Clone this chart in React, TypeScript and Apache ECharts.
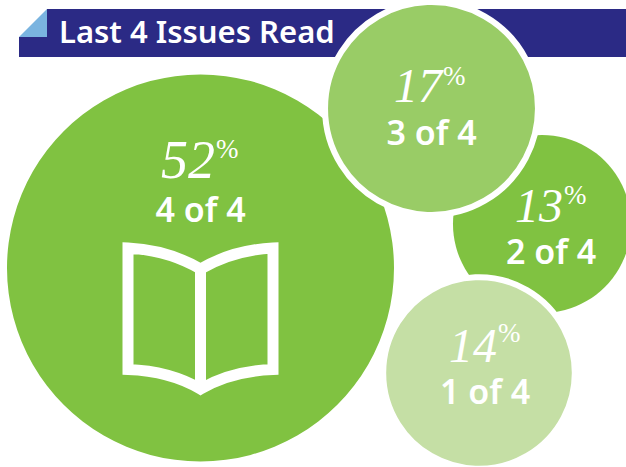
import React, { useEffect, useRef } from "react";
import * as echarts from "echarts";

const titleText = "Last 4 Issues Read";
const percentValues = [52, 13, 14, 17];
const issueLabels = ["4 of 4", "2 of 4", "1 of 4", "3 of 4"];
const bubbleX = [200.5, 542, 479, 431.5];
const bubbleY = [268, 224, 373, 108.5];
const bubbleColors = ["#80c241", "#80c241", "#c5dfa5", "#99cc66"];
const bubbleBorders = [0, 0, 6, 6];
const numberFontSizes = [54, 48, 48, 48];
const numberX = [188, 539, 473, 418];
const numberY = [160, 205, 345, 85];
const percentY = [149, 195, 333, 76];
const subX = [200.5, 551, 485, 431.5];
const subY = [209, 251, 391, 132];

const SANS = "'Noto Sans', 'Open Sans', sans-serif";
const SERIF = "'Liberation Serif', serif";

const BOOK =
  "M200.5 269 Q168 250 128 248 L128 369.5 Q170 371 200.5 389 Q231 371 273 369.5 L273 248 Q233 250 200.5 269 L200.5 389";
echarts.graphic.registerShape("bookIcon", echarts.graphic.extendPath(BOOK, {}));

const radiusOf = (v: number) => 21.17 * Math.pow(v, 0.56);

export default function App() {
  const ref = useRef<HTMLDivElement>(null);
  useEffect(() => {
    document.body.style.margin = "0";
    const chart = echarts.init(ref.current!, undefined, { renderer: "svg" });
    const texts: any[] = [];
    percentValues.forEach((v, i) => {
      texts.push({
        type: "text",
        z: 10,
        x: numberX[i],
        y: numberY[i],
        style: {
          text: String(v),
          fill: "#fff",
          font: `italic 400 ${numberFontSizes[i]}px ${SERIF}`,
          textAlign: "center",
          textVerticalAlign: "middle",
        },
      });
      texts.push({
        type: "text",
        z: 10,
        x: numberX[i] + numberFontSizes[i] / 2 + 1,
        y: percentY[i],
        style: {
          text: "%",
          fill: "#fff",
          font: `400 27px ${SERIF}`,
          textAlign: "left",
          textVerticalAlign: "middle",
        },
      });
      texts.push({
        type: "text",
        z: 10,
        x: subX[i],
        y: subY[i],
        style: {
          text: issueLabels[i],
          fill: "#fff",
          font: `600 34px ${SANS}`,
          textAlign: "center",
          textVerticalAlign: "middle",
        },
      });
    });
    chart.setOption({
      animation: false,
      grid: { left: 0, right: 0, top: 0, bottom: 0 },
      xAxis: { type: "value", min: 0, max: 626, show: false },
      yAxis: { type: "value", min: 0, max: 467, inverse: true, show: false },
      graphic: [
        {
          type: "polygon",
          z: 0,
          shape: { points: [[47, 9], [626, 9], [626, 57], [19, 57], [19, 37], [47, 37]] },
          style: { fill: "#2b2a85" },
        },
        {
          type: "polygon",
          z: 0,
          shape: { points: [[19, 37], [47, 9], [47, 37]] },
          style: { fill: "#7ab4e0" },
        },
        {
          type: "text",
          z: 1,
          x: 59,
          y: 31,
          style: {
            text: titleText,
            fill: "#fff",
            font: `600 31px ${SANS}`,
            textAlign: "left",
            textVerticalAlign: "middle",
          },
        },
        {
          type: "bookIcon",
          z: 10,
          x: 0,
          y: 0,
          style: { fill: "none", stroke: "#fff", lineWidth: 11, lineJoin: "miter" },
        },
        ...texts,
      ],
      series: [
        {
          type: "scatter",
          silent: true,
          clip: false,
          data: percentValues.map((v, i) => ({
            value: [bubbleX[i], bubbleY[i]],
            symbolSize: 2 * radiusOf(v) + bubbleBorders[i],
            itemStyle: {
              color: bubbleColors[i],
              opacity: 1,
              borderColor: "#fff",
              borderWidth: bubbleBorders[i],
            },
          })),
        },
      ],
    });
    return () => chart.dispose();
  }, []);
  return <div ref={ref} style={{ width: 626, height: 467, overflow: "hidden" }} />;
}
